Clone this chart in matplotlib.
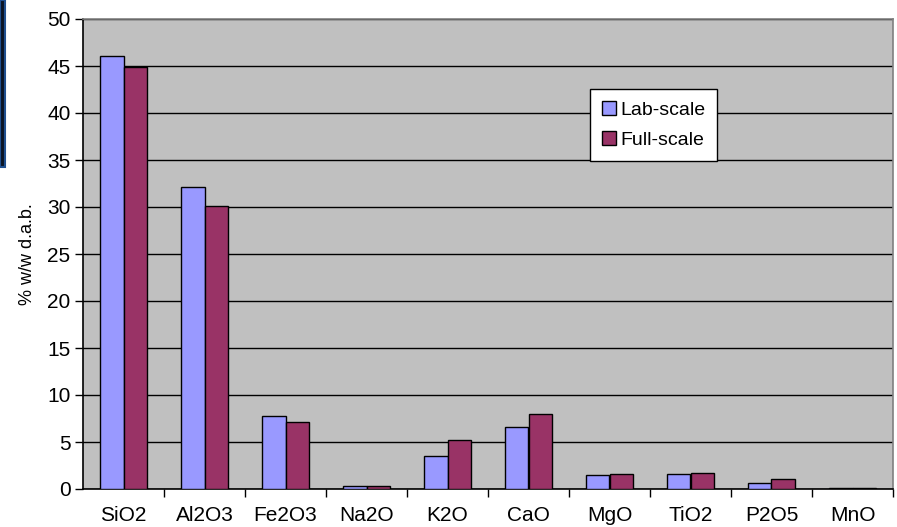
import matplotlib.pyplot as plt
import matplotlib.patches as mpatches
import numpy as np

plt.rcParams['font.family'] = ['Liberation Sans', 'DejaVu Sans']

oxides = ["SiO2", "Al2O3", "Fe2O3", "Na2O", "K2O", "CaO", "MgO", "TiO2", "P2O5", "MnO"]
lab_scale = [46.1, 32.1, 7.8, 0.3, 3.5, 6.6, 1.5, 1.6, 0.65, 0.1]
full_scale = [44.9, 30.1, 7.1, 0.3, 5.2, 8.0, 1.6, 1.7, 1.1, 0.1]

fig = plt.figure(figsize=(8.97, 5.27), dpi=100)
ax = fig.add_axes([83/897, 1-489/527, 810/897, 470/527])
ax.set_facecolor('#C0C0C0')

x = np.arange(len(oxides))
w = 1/3.5
ax.bar(x - w/2, lab_scale, w, color='#9999FF', edgecolor='black', linewidth=1, label='Lab-scale', zorder=3)
ax.bar(x + w/2, full_scale, w, color='#993366', edgecolor='black', linewidth=1, label='Full-scale', zorder=3)

ax.set_xlim(-0.5, len(oxides) - 0.5)
ax.set_ylim(0, 50)
ax.set_yticks(range(0, 51, 5))
ax.yaxis.grid(True, color='black', linewidth=1, zorder=1)
ax.set_axisbelow(True)

ax.set_xticks(x)
ax.set_xticklabels(oxides, fontsize=15)
ax.set_xticks(np.arange(len(oxides)) + 0.5, minor=True)
ax.tick_params(axis='x', which='major', length=0, pad=12)
ax.tick_params(axis='x', which='minor', length=6, width=1, color='black')
ax.tick_params(axis='y', labelsize=15, length=6, width=1, color='black', pad=3)

ax.spines['left'].set_color('black')
ax.spines['bottom'].set_color('black')
ax.spines['top'].set_color('#808080')
ax.spines['right'].set_color('#808080')
for s in ax.spines.values():
    s.set_linewidth(1.2)

ax.set_ylabel('% w/w d.a.b.', fontsize=13, labelpad=8)

leg = ax.legend(loc='upper left', bbox_to_anchor=(590/897, 1-89/527), bbox_transform=fig.transFigure,
                borderaxespad=0, fontsize=14, fancybox=False, framealpha=1, edgecolor='black',
                handlelength=0.75, handleheight=0.75, handletextpad=0.2, labelspacing=0.65,
                borderpad=0.6)
leg.get_frame().set_linewidth(1)

# dark strip at left edge (part of background image)
fig.patches.append(mpatches.Rectangle((0, 1-167/527), 5/897, 167/527, transform=fig.transFigure,
                                      facecolor='#0b1424', edgecolor='#1f4f8f', linewidth=1.5))

fig.savefig('out.png', dpi=100)
